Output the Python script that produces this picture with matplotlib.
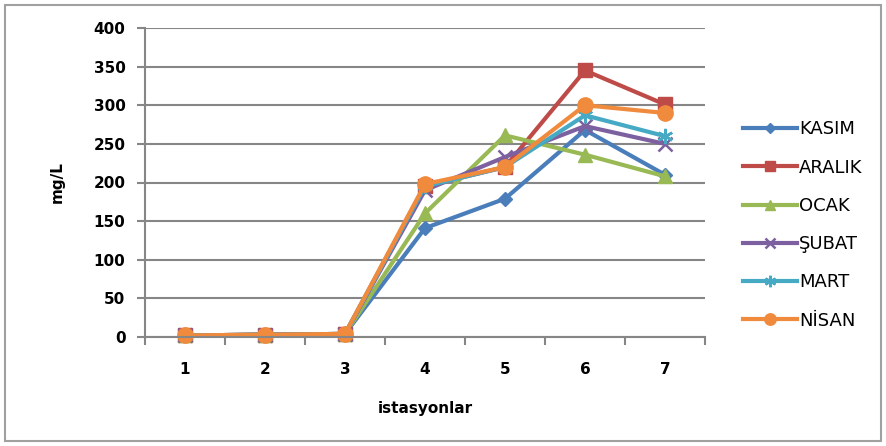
import matplotlib
matplotlib.use("Agg")
import matplotlib.pyplot as plt
from matplotlib.patches import Rectangle

stations = [1, 2, 3, 4, 5, 6, 7]
kasim = [2, 3, 4, 141, 179, 268, 210]
aralik = [2, 3, 4, 195, 220, 345, 301]
ocak = [2, 3, 4, 160, 261, 236, 208]
subat = [2, 3, 4, 190, 233, 273, 250]
mart = [2, 3, 4, 195, 220, 287, 260]
nisan = [2, 3, 4, 198, 220, 300, 290]

series_names = ["KASIM", "ARALIK", "OCAK", "ŞUBAT", "MART", "NİSAN"]
series_values = [kasim, aralik, ocak, subat, mart, nisan]
colors = ["#4A7EBB", "#BE4B48", "#98B954", "#7D60A0", "#46AAC5", "#F08A3C"]
markers = ["D", "s", "^", "x", (6, 2, 0), "o"]
msizes = [7, 10, 10, 10, 11, 11]

plt.rcParams['font.family'] = ['DejaVu Sans']
fig = plt.figure(figsize=(8.86, 4.46), dpi=100)
fig.patches.append(Rectangle((0.006, 0.012), 0.988, 0.976, transform=fig.transFigure,
                             fill=False, edgecolor="#A0A0A0", linewidth=1.5))
ax = fig.add_axes([145 / 886, 1 - 337 / 446, 560 / 886, 309 / 446])

for name, vals, c, m, ms in zip(series_names, series_values, colors, markers, msizes):
    ax.plot(stations, vals, color=c, lw=3, marker=m, markersize=ms,
            markeredgewidth=1.8 if m in ("x", (6, 2, 0)) else 1,
            markeredgecolor=c, label=name, clip_on=False)

ax.set_xlim(0.5, 7.5)
ax.set_ylim(0, 400)
ax.set_yticks(range(0, 401, 50))
ax.set_xticks(stations)
ax.set_xticks([0.5 + i for i in range(8)], minor=True)
ax.tick_params(axis="x", which="major", length=0, pad=18, labelsize=11)
ax.tick_params(axis="x", which="minor", length=6, width=1.5, color="#868686", direction="out")
ax.tick_params(axis="y", length=6, width=1.5, color="#868686", direction="out", pad=8, labelsize=11)
for lab in ax.get_xticklabels() + ax.get_yticklabels():
    lab.set_fontweight("bold")
ax.yaxis.grid(True, color="#868686", lw=1.5)
ax.set_axisbelow(True)
for s in ["top", "right"]:
    ax.spines[s].set_visible(False)
for s in ["left", "bottom"]:
    ax.spines[s].set_color("#868686")
    ax.spines[s].set_linewidth(1.5)

ax.set_xlabel("istasyonlar", fontsize=11, fontweight="bold", labelpad=17)
ax.set_ylabel("mg/L", fontsize=11, fontweight="bold", labelpad=21)

ax.legend(loc="center left", bbox_to_anchor=(736 / 886, 1 - 225 / 446),
          bbox_transform=fig.transFigure, frameon=False, fontsize=13,
          handlelength=3.0, handletextpad=0.1, labelspacing=1.12, borderaxespad=0,
          markerscale=0.75)

fig.savefig("out.png", dpi=100)
